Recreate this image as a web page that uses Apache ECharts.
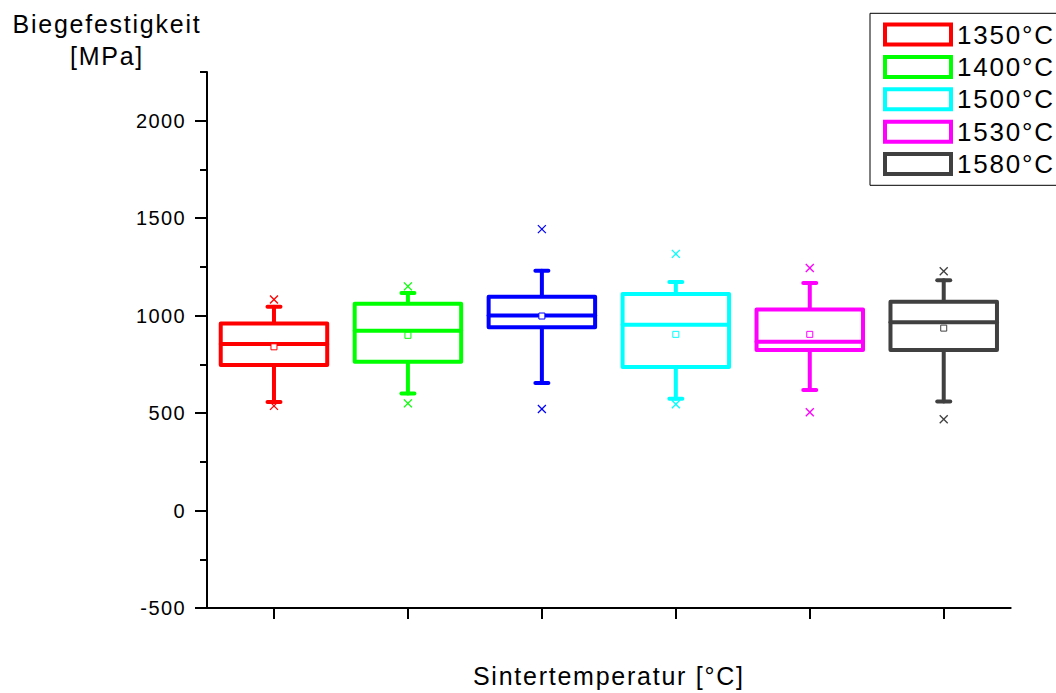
<!DOCTYPE html>
<html>
<head>
<meta charset="utf-8">
<script src="https://cdn.jsdelivr.net/npm/echarts@6/dist/echarts.min.js"></script>
<style>
  html, body { margin: 0; padding: 0; background: #fff; }
  #chart { width: 1056px; height: 693px; }
  #chart text { letter-spacing: 0.07em; }
</style>
</head>
<body>
<div id="chart"></div>
<script>
// ---- data ----
const categories   = ['1350°C', '1400°C', 'Serie 3', '1500°C', '1530°C', '1580°C'];
const legendNames  = ['1350°C', '1400°C', '1500°C', '1530°C', '1580°C'];
const whiskerLow   = [557, 600, 654, 574, 619, 559];
const q1           = [747, 764, 940, 736, 824, 824];
const median       = [854, 923, 1001, 953, 866, 966];
const q3           = [960, 1061, 1097, 1111, 1032, 1071];
const whiskerHigh  = [1046, 1116, 1230, 1172, 1167, 1182];
const mean         = [840, 899, 998, 904, 904, 936];
const outlierLow   = [537, 550, 521, 545, 504, 468];
const outlierHigh  = [1083, 1150, 1444, 1317, 1244, 1228];
const yMajorTicks  = [-500, 0, 500, 1000, 1500, 2000];
const yMinorTicks  = [-250, 250, 750, 1250, 1750, 2250];

// ---- styles ----
const colors = ['#ff0000', '#00ff00', '#0000ff', '#00ffff', '#ff00ff', '#404040'];
const FONT = 'Liberation Sans, Arial, sans-serif';

const chart = echarts.init(document.getElementById('chart'), null, { renderer: 'svg' });

function renderBox(params, api) {
  const x = api.value(0);
  const color = api.visual('color');
  const bw = api.size([1, 0])[0] * 0.795;
  const pLow = api.coord([x, api.value(1)]);
  const pQ1 = api.coord([x, api.value(2)]);
  const pMed = api.coord([x, api.value(3)]);
  const pQ3 = api.coord([x, api.value(4)]);
  const pHigh = api.coord([x, api.value(5)]);
  const pMean = api.coord([x, api.value(6)]);
  const pOL = api.coord([x, api.value(7)]);
  const pOH = api.coord([x, api.value(8)]);
  const cx = pMed[0];
  const lw = 4;
  const capHalf = 6.5;
  const thick = { stroke: color, lineWidth: lw, lineCap: 'round', fill: null };
  const thin = { stroke: color, lineWidth: 1.3, fill: null };
  const xs = 4;
  const cross = (p) => [
    { type: 'line', shape: { x1: p[0] - xs, y1: p[1] - xs, x2: p[0] + xs, y2: p[1] + xs }, style: thin },
    { type: 'line', shape: { x1: p[0] - xs, y1: p[1] + xs, x2: p[0] + xs, y2: p[1] - xs }, style: thin }
  ];
  return {
    type: 'group',
    children: [
      { type: 'line', shape: { x1: cx, y1: pQ3[1], x2: cx, y2: pHigh[1] }, style: thick },
      { type: 'line', shape: { x1: cx, y1: pQ1[1], x2: cx, y2: pLow[1] }, style: thick },
      { type: 'line', shape: { x1: cx - capHalf, y1: pHigh[1], x2: cx + capHalf, y2: pHigh[1] }, style: thick },
      { type: 'line', shape: { x1: cx - capHalf, y1: pLow[1], x2: cx + capHalf, y2: pLow[1] }, style: thick },
      { type: 'rect', shape: { x: cx - bw / 2, y: pQ3[1], width: bw, height: pQ1[1] - pQ3[1] },
        style: { stroke: color, lineWidth: lw, fill: '#fff', lineJoin: 'round' } },
      { type: 'line', shape: { x1: cx - bw / 2, y1: pMed[1], x2: cx + bw / 2, y2: pMed[1] }, style: thick },
      { type: 'rect', shape: { x: pMean[0] - 3, y: pMean[1] - 3, width: 6, height: 6 },
        style: { stroke: color, lineWidth: 1, fill: '#fff' } },
      ...cross(pOL),
      ...cross(pOH)
    ]
  };
}

const series = categories.map((name, i) => ({
  name: name,
  type: 'custom',
  renderItem: renderBox,
  itemStyle: { color: colors[i] },
  encode: { x: 0, y: [1, 2, 3, 4, 5, 6, 7, 8] },
  data: [[i, whiskerLow[i], q1[i], median[i], q3[i], whiskerHigh[i], mean[i], outlierLow[i], outlierHigh[i]]],
  silent: true,
  animation: false
}));

const legendData = legendNames.map((n) => {
  const c = colors[categories.indexOf(n)];
  return { name: n, icon: 'rect', itemStyle: { color: '#fff', borderColor: c, borderWidth: 4 } };
});

chart.setOption({
  backgroundColor: '#fff',
  animation: false,
  textStyle: { fontFamily: FONT, color: '#000' },
  grid: { left: 207, top: 72, right: 45.3, bottom: 84.7, containLabel: false },
  legend: {
    data: legendData,
    orient: 'vertical',
    left: 870,
    top: 13.3,
    padding: [8.2, 30, 8.2, 13],
    itemWidth: 66,
    itemHeight: 20,
    itemGap: 6.4,
    borderColor: '#000',
    borderWidth: 1,
    selectedMode: false,
    textStyle: { fontFamily: FONT, fontSize: 26, color: '#000', lineHeight: 26, padding: [0, 0, 0, 1] }
  },
  xAxis: {
    type: 'category',
    data: categories,
    boundaryGap: true,
    name: 'Sintertemperatur [°C]',
    nameLocation: 'middle',
    nameGap: 55,
    nameTextStyle: { fontFamily: FONT, fontSize: 25, color: '#000', lineHeight: 25 },
    axisLine: { show: true, onZero: false, lineStyle: { color: '#000', width: 2 } },
    axisTick: { show: true, alignWithLabel: true, length: 11, lineStyle: { color: '#000', width: 2 } },
    axisLabel: { show: false },
    splitLine: { show: false }
  },
  yAxis: [
    {
      type: 'value',
      min: -500,
      max: 2250,
      position: 'left',
      name: 'Biegefestigkeit\n[MPa]',
      nameLocation: 'end',
      nameGap: 0,
      nameTextStyle: { fontFamily: FONT, fontSize: 25, color: '#000', lineHeight: 32, align: 'center', verticalAlign: 'bottom', padding: [0, 200, 0, 0] },
      axisLine: { show: true, onZero: false, lineStyle: { color: '#000', width: 2 } },
      axisTick: { show: true, customValues: yMajorTicks, length: 12, lineStyle: { color: '#000', width: 2 } },
      axisLabel: { show: true, customValues: yMajorTicks, margin: 21, fontFamily: FONT, fontSize: 20, color: '#000',
                   formatter: (v) => String(v) },
      splitLine: { show: false }
    },
    {
      type: 'value',
      min: -500,
      max: 2250,
      position: 'left',
      axisLine: { show: false },
      axisTick: { show: true, customValues: yMinorTicks, length: 7, lineStyle: { color: '#000', width: 2 } },
      axisLabel: { show: false },
      splitLine: { show: false }
    }
  ],
  series: series
});
</script>
</body>
</html>
